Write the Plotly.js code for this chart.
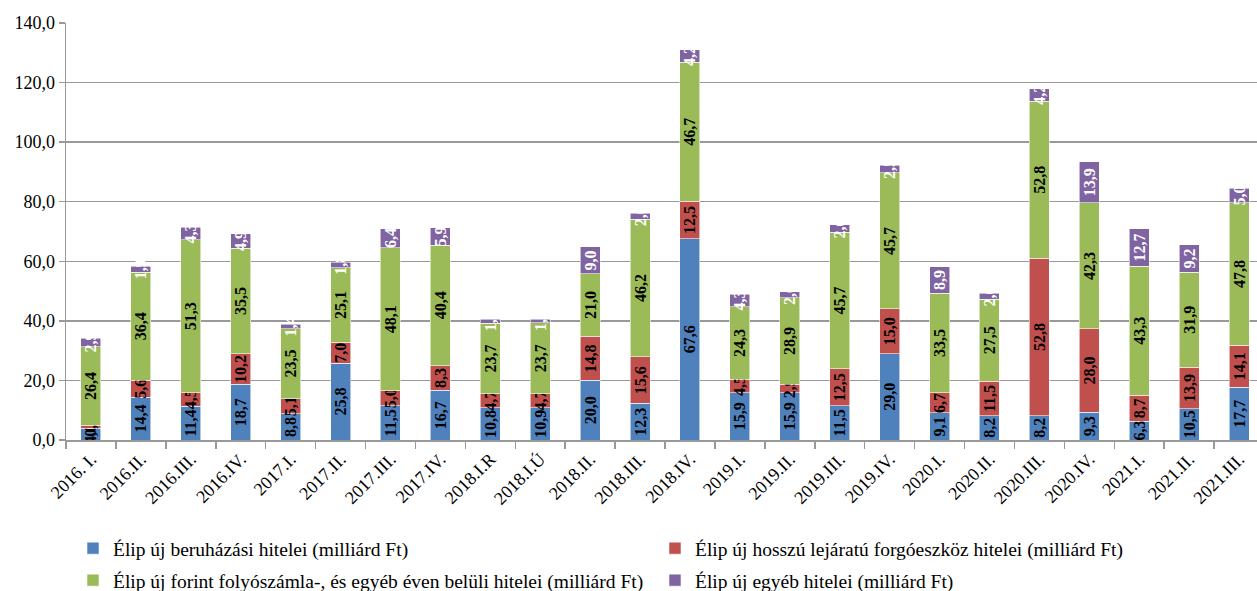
<!DOCTYPE html>
<html>
<head>
<meta charset="utf-8">
<script src="https://cdn.plot.ly/plotly-3.0.1.min.js"></script>
<style>
html,body{margin:0;padding:0;overflow:hidden;background:#fff;}
#chart{width:1265px;height:591px;}
</style>
</head>
<body>
<div id="chart"></div>
<script>
const categories = ["2016. I.","2016.II.","2016.III.","2016.IV.","2017.I.","2017.II.","2017.III.","2017.IV.","2018.I.R","2018.I.Ú","2018.II.","2018.III.","2018.IV.","2019.I.","2019.II.","2019.III.","2019.IV.","2020.I.","2020.II.","2020.III.","2020.IV.","2021.I.","2021.II.","2021.III."];
const beruhazasi = [4.0,14.4,11.4,18.7,8.8,25.8,11.5,16.7,10.8,10.9,20.0,12.3,67.6,15.9,15.9,11.5,29.0,9.1,8.2,8.2,9.3,6.3,10.5,17.7];
const forgoeszkoz = [0.9,5.6,4.5,10.2,5.1,7.0,5.0,8.3,4.7,4.7,14.8,15.6,12.5,4.5,2.9,12.5,15.0,6.7,11.5,52.8,28.0,8.7,13.9,14.1];
const folyoszamla = [26.4,36.4,51.3,35.5,23.5,25.1,48.1,40.4,23.7,23.7,21.0,46.2,46.7,24.3,28.9,45.7,45.7,33.5,27.5,52.8,42.3,43.3,31.9,47.8];
const egyeb = [2.9,1.9,4.3,4.9,1.4,1.8,6.4,5.9,1.3,1.3,9.0,2.0,4.2,4.3,2.0,2.6,2.5,8.9,2.0,4.2,13.9,12.7,9.2,5.0];
const seriesNames = [
  "Élip új beruházási hitelei (milliárd Ft)",
  "Élip új hosszú lejáratú forgóeszköz hitelei (milliárd Ft)",
  "Élip új forint folyószámla-, és egyéb éven belüli hitelei (milliárd Ft)",
  "Élip új egyéb hitelei (milliárd Ft)"
];
const colors = ["#4F81BD","#C0504D","#9BBB59","#8064A2"];
const labelColors = ["#000000","#000000","#000000","#ffffff"];
const legendIds = ["legend","legend","legend2","legend2"];
const seriesData = [beruhazasi, forgoeszkoz, folyoszamla, egyeb];

const fmt = v => v.toFixed(1).replace('.', ',');
const serif = "Liberation Serif";

const traces = seriesData.map((vals, i) => ({
  type: 'bar',
  name: seriesNames[i],
  x: categories,
  y: vals,
  text: vals.map(fmt),
  textposition: 'inside',
  insidetextanchor: 'middle',
  textangle: -90,
  constraintext: 'none',
  textfont: {family: serif, size: 16, color: labelColors[i], weight: 'bold'},
  marker: {color: colors[i], line: {color: 'rgba(255,255,255,0.7)', width: 0.8}},
  legend: legendIds[i],
  hoverinfo: 'x+y+name'
}));

const legendCommon = {
  orientation: 'h',
  traceorder: 'normal',
  xref: 'container', yref: 'container',
  xanchor: 'left', yanchor: 'top',
  entrywidth: 537, entrywidthmode: 'pixels',
  font: {family: serif, size: 19.5, color: '#000000'},
  bgcolor: 'rgba(0,0,0,0)',
  borderwidth: 0
};

const layout = {
  width: 1265,
  height: 591,
  barmode: 'stack',
  bargap: 0.6,
  separators: ', ',
  margin: {l: 66, r: 1, t: 23, b: 151},
  paper_bgcolor: '#ffffff',
  plot_bgcolor: '#ffffff',
  font: {family: serif, color: '#000000', size: 17},
  uniformtext: {mode: 'show', minsize: 16},
  xaxis: {
    type: 'category',
    tickangle: -45,
    tickfont: {family: serif, size: 18, color: '#000000'},
    ticks: 'outside',
    tickson: 'boundaries',
    ticklen: 7,
    tickcolor: '#999999',
    tickwidth: 1.5,
    showline: true,
    linecolor: '#999999',
    linewidth: 1.5,
    showgrid: false
  },
  yaxis: {
    range: [0, 140],
    dtick: 20,
    tickformat: '.1f',
    tickfont: {family: serif, size: 18, color: '#000000'},
    ticks: 'outside',
    ticklen: 6,
    tickcolor: '#999999',
    tickwidth: 1.5,
    showline: true,
    linecolor: '#999999',
    linewidth: 1.5,
    showgrid: true,
    gridcolor: '#999999',
    gridwidth: 1.5,
    zeroline: false
  },
  showlegend: true,
  legend: Object.assign({}, legendCommon, {x: 73/1265, y: 1 - 529/591}),
  legend2: Object.assign({}, legendCommon, {x: 73/1265, y: 1 - 561/591})
};

Plotly.newPlot('chart', traces, layout, {displayModeBar: false, staticPlot: true});
</script>
</body>
</html>
